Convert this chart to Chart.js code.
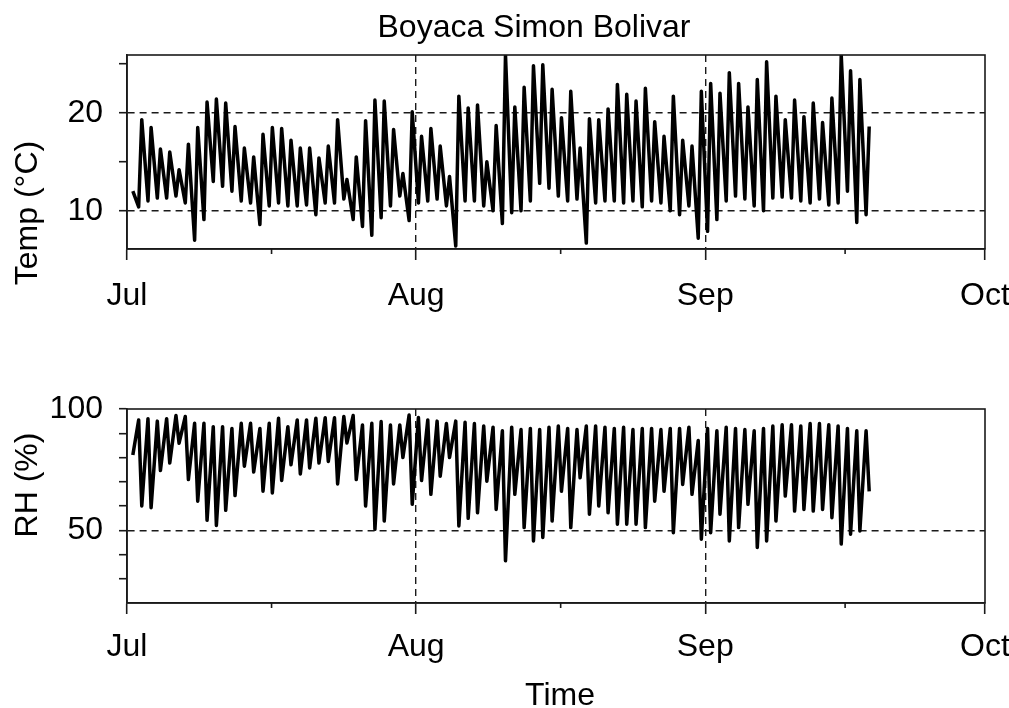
<!DOCTYPE html>
<html>
<head>
<meta charset="utf-8">
<title>Boyaca Simon Bolivar</title>
<script src="https://cdn.jsdelivr.net/npm/chart.js@4.4.0/dist/chart.umd.min.js"></script>
<style>
  html, body { margin: 0; padding: 0; background: #fff; }
  #wrap { position: relative; width: 1009px; height: 708px; }
  canvas { position: absolute; left: 0; }
</style>
</head>
<body>
<div id="wrap">
  <canvas id="tempChart" width="1009" height="350" style="top:0"></canvas>
  <canvas id="rhChart" width="1009" height="358" style="top:350px"></canvas>
</div>

<script>
// axis: days since 1 Jul
var monthLabels = ['Jul', 'Aug', 'Sep', 'Oct'];
var monthStarts = [0, 31, 62, 92];
var midMonths = [15.5, 46.5, 77];

var tempTicks = [10, 15, 20, 25];
var tempLabels = [10, 20];
var rhTicks = [30, 40, 50, 60, 70, 80, 90, 100];
var rhLabels = [50, 100];
var rhDashed = [50];

// one night value + one afternoon value per day, 2 Jul .. 19 Sep
var firstHour = 15, nightHour = 6, dayHour = 14;
var tempFirst = 12.0;
var rhFirst = 81;

var tempMin = [
  10.4, 11.0, 11.3, 11.3, 11.5, 10.8, 7.0, 9.1, 13.0, 12.5, 12.0, 11.0, 10.8, 8.6, 10.5,
  10.8, 10.5, 10.5, 10.6, 9.6, 10.8, 10.8, 11.2, 9.1, 8.4, 7.5, 9.3, 10.5, 11.5,
  9.0, 10.8, 11.0, 11.2, 10.5, 6.4, 11.0, 11.0, 10.5, 10.0, 8.7, 9.8, 10.0, 11.0, 12.8, 12.3,
  11.5, 11.0, 11.2, 6.7, 10.8, 11.0, 11.0, 10.8, 11.0, 10.4, 11.0, 10.8, 10.0, 9.6, 10.5,
  7.2, 7.9, 9.1, 11.0, 11.5, 11.2, 10.5, 10.0, 11.3, 11.4, 11.3, 11.0, 10.8, 11.2, 10.6,
  10.8, 12.0, 8.8, 9.6
];
var tempMax = [
  19.3, 18.5, 16.3, 16.0, 14.2, 16.8, 18.5, 21.1, 21.4, 21.0, 18.6, 16.4, 15.5, 17.8, 18.5,
  18.4, 17.2, 16.4, 16.4, 15.4, 16.6, 19.3, 13.2, 15.5, 19.2, 21.3, 21.2, 18.3, 13.8,
  20.1, 17.6, 18.4, 16.6, 13.5, 21.7, 20.5, 20.8, 15.0, 18.7, 25.9, 20.6, 22.6, 24.8, 24.9,
  22.4, 19.5, 22.2, 16.4, 19.4, 19.3, 20.4, 22.9, 21.9, 21.2, 22.5, 19.1, 17.6, 21.7, 17.2, 16.6,
  22.2, 23.0, 22.0, 24.1, 23.0, 20.6, 23.4, 25.2, 21.7, 19.3, 21.3, 19.6, 21.0, 19.0, 21.5,
  25.9, 24.3, 23.4, 18.6
];
var rhMax = [
  95.5, 96.0, 95.0, 96.0, 97.3, 96.9, 94.1, 94.1, 92.7, 92.7, 92.0, 94.1, 94.1, 92.0, 94.1,
  96.2, 92.7, 95.5, 95.5, 96.2, 96.4, 96.4, 96.9, 97.3, 93.4, 94.1, 94.8, 93.4, 93.4,
  97.5, 96.5, 95.5, 95.0, 94.0, 95.0, 94.5, 94.0, 93.0, 92.5, 91.0, 92.5, 91.5, 92.0, 91.5,
  92.5, 93.0, 92.0, 91.5, 93.0, 93.0, 92.5, 92.0, 92.5, 91.5, 92.0, 92.0, 91.5, 92.0, 92.0, 92.5,
  87.0, 92.0, 91.0, 92.5, 92.0, 91.5, 91.0, 92.0, 93.0, 93.5, 93.5, 93.0, 94.0, 94.0, 93.5,
  93.0, 92.0, 91.0, 91.0
];
var rhMin = [
  60.0, 59.3, 74.6, 77.7, 85.9, 70.9, 62.0, 54.1, 52.0, 58.2, 64.3, 76.4, 74.0, 66.1, 65.4,
  70.5, 77.0, 73.2, 75.7, 77.7, 78.4, 69.1, 86.0, 70.9, 60.0, 50.4, 53.8, 69.1, 80.0,
  60.7, 70.5, 64.8, 72.3, 80.0, 51.8, 54.9, 57.2, 70.2, 58.6, 37.4, 64.8, 51.1, 45.6, 47.0,
  53.8, 66.1, 51.1, 71.6, 56.6, 60.0, 57.2, 52.5, 52.5, 52.5, 51.1, 62.0, 66.1, 49.0, 68.9, 64.8,
  46.3, 49.0, 56.6, 45.6, 51.1, 60.7, 42.9, 45.6, 53.8, 64.1, 57.9, 58.6, 57.9, 58.6, 55.2,
  44.3, 48.4, 49.7, 66.0
];

function series(first, night, day) {
  var pts = [{x: firstHour / 24, y: first}];
  for (var i = 0; i < night.length; i++) {
    pts.push({x: i + 1 + nightHour / 24, y: night[i]});
    pts.push({x: i + 1 + dayHour / 24, y: day[i]});
  }
  return pts;
}

var FONT = '"Liberation Sans", Arial, sans-serif';
var FSIZE = 32;
var INK = '#1a1a1a';

// frame, half-month ticks and the free text
var decor = {
  id: 'decor',
  afterDraw: function(chart, args, opts) {
    var ctx = chart.ctx, a = chart.chartArea, sx = chart.scales.x;
    ctx.save();
    ctx.strokeStyle = INK;
    ctx.lineWidth = 1.6;
    midMonths.forEach(function(v) {
      var px = sx.getPixelForValue(v);
      ctx.beginPath();
      ctx.moveTo(px, a.bottom);
      ctx.lineTo(px, a.bottom + 5);
      ctx.stroke();
    });
    ctx.strokeRect(a.left, a.top, a.right - a.left, a.bottom - a.top);
    ctx.fillStyle = '#000';
    ctx.font = FSIZE + 'px ' + FONT;
    ctx.textAlign = 'center';
    (opts.texts || []).forEach(function(t) {
      ctx.save();
      ctx.translate(t.x, t.y);
      if (t.rot) ctx.rotate(t.rot);
      ctx.textBaseline = t.base || 'alphabetic';
      ctx.fillText(t.text, 0, 0);
      ctx.restore();
    });
    ctx.restore();
  }
};

function makeChart(id, pts, yMin, yMax, ticksY, labelsY, dashedY, top, xH, xPad, texts) {
  return new Chart(document.getElementById(id), {
    type: 'line',
    data: {
      datasets: [{
        data: pts,
        borderColor: '#000',
        borderWidth: 3.5,
        borderJoinStyle: 'round',
        pointRadius: 0,
        tension: 0
      }]
    },
    options: {
      responsive: false,
      animation: false,
      parsing: false,
      layout: { padding: { top: top, left: 0, right: 24, bottom: 0 } },
      plugins: { legend: { display: false }, tooltip: { enabled: false }, decor: { texts: texts } },
      scales: {
        x: {
          type: 'linear',
          min: monthStarts[0],
          max: monthStarts[monthStarts.length - 1],
          afterBuildTicks: function(s) { s.ticks = monthStarts.map(function(v) { return {value: v}; }); },
          afterFit: function(s) { s.height = xH; s.paddingLeft = 0; s.paddingRight = 0; },
          ticks: {
            autoSkip: false, maxRotation: 0, padding: xPad, color: '#000',
            font: { family: FONT, size: FSIZE },
            callback: function(v) { var i = monthStarts.indexOf(v); return i < 0 ? '' : monthLabels[i]; }
          },
          grid: {
            color: function(c) {
              var v = c.tick && c.tick.value;
              return (v > monthStarts[0] && v < monthStarts[monthStarts.length - 1]) ? INK : 'rgba(0,0,0,0)';
            },
            lineWidth: 1.4, tickLength: 11, tickColor: INK, tickWidth: 1.6
          },
          border: { color: INK, width: 1.6, dash: [7, 5] }
        },
        y: {
          min: yMin, max: yMax,
          afterBuildTicks: function(s) { s.ticks = ticksY.map(function(v) { return {value: v}; }); },
          afterFit: function(s) { s.width = 127; s.paddingTop = 0; s.paddingBottom = 0; },
          ticks: {
            autoSkip: false, padding: 16, color: '#000',
            font: { family: FONT, size: FSIZE },
            callback: function(v) { return labelsY.indexOf(v) >= 0 ? String(v) : ''; }
          },
          grid: {
            color: function(c) { return (c.tick && dashedY.indexOf(c.tick.value) >= 0) ? INK : 'rgba(0,0,0,0)'; },
            lineWidth: 1.4, tickLength: 8, tickColor: INK, tickWidth: 1.6
          },
          border: { color: INK, width: 1.6, dash: [7, 5] }
        }
      }
    },
    plugins: [decor]
  });
}

makeChart('tempChart', series(tempFirst, tempMin, tempMax), 6.1, 25.9,
  tempTicks, tempLabels, tempLabels, 55, 101, 17, [
    { text: 'Boyaca Simon Bolivar', x: 534, y: 37 },
    { text: 'Temp (\u00B0C)', x: 28, y: 213, rot: -Math.PI / 2, base: 'middle' }
  ]);

makeChart('rhChart', series(rhFirst, rhMax, rhMin), 20, 100,
  rhTicks, rhLabels, rhDashed, 59, 105, 14, [
    { text: 'RH (%)', x: 28, y: 135, rot: -Math.PI / 2, base: 'middle' },
    { text: 'Time', x: 560, y: 355 }
  ]);
</script>
</body>
</html>
